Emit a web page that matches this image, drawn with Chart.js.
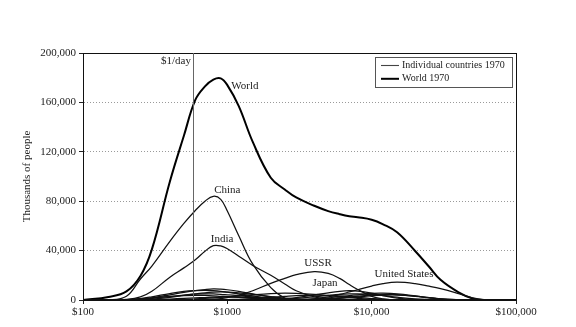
<!DOCTYPE html>
<html>
<head>
<meta charset="utf-8">
<script src="https://cdn.jsdelivr.net/npm/chart.js@4"></script>
<style>
  html, body { margin: 0; padding: 0; background: #fff; }
  #wrap { width: 576px; height: 327px; }
</style>
</head>
<body>
<div id="wrap"><canvas id="chart"></canvas></div>
<script>
// income grid (1985 $, log scale) shared by every curve
const incomes = [100, 150, 200, 250, 300, 400, 500, 600, 700, 800, 900, 1000, 1200, 1500, 2000, 2500, 3000,
  4000, 5000, 6000, 7000, 8000, 10000, 12000, 15000, 20000, 25000, 30000, 40000, 50000, 60000, 80000, 100000];

// thousands of people at each income level, 1970
const world = [0, 2500, 7000, 19500, 41000, 96000, 133000, 162000, 173000, 178500, 179500, 174000, 157000, 128000, 99000, 89500, 83000,
  76300, 72000, 69500, 67800, 67000, 65000, 61300, 54800, 39700, 26900, 16300, 6200, 1200, 0, 0, 0];
const china = [0, 0, 3000, 17000, 27500, 47500, 62000, 72500, 80000, 84000, 81500, 72000, 52000, 29000, 10000, 1500, 0,
  0, 0, 0, 0, 0, 0, 0, 0, 0, 0, 0, 0, 0, 0, 0, 0];
const india = [0, 0, 500, 2500, 7000, 18500, 26000, 32500, 39500, 44000, 43800, 41500, 35500, 28000, 20000, 13000, 7500,
  2500, 500, 0, 0, 0, 0, 0, 0, 0, 0, 0, 0, 0, 0, 0, 0];
const ussr = [0, 0, 0, 0, 0, 0, 0, 0, 300, 700, 1200, 2000, 4000, 7500, 13500, 17500, 20500,
  23000, 21500, 17500, 12500, 8500, 3000, 1000, 0, 0, 0, 0, 0, 0, 0, 0, 0];
const japan = [0, 0, 0, 0, 0, 0, 0, 0, 0, 0, 0, 0, 0, 0, 500, 1200, 2000,
  4000, 5800, 7000, 7500, 7200, 5500, 3500, 1500, 300, 0, 0, 0, 0, 0, 0, 0];
const unitedStates = [0, 0, 0, 0, 0, 0, 0, 0, 0, 0, 0, 0, 0, 0, 0, 0, 300,
  1000, 2500, 4500, 6500, 8300, 11300, 13300, 14400, 13300, 11200, 9200, 5200, 1800, 400, 0, 0];
const indonesia = [0, 0, 200, 800, 1800, 4200, 6200, 7600, 8500, 9000, 8800, 8300, 7000, 5000, 2500, 1000, 300,
  0, 0, 0, 0, 0, 0, 0, 0, 0, 0, 0, 0, 0, 0, 0, 0];
const bangladesh = [0, 0, 300, 1200, 2600, 5200, 6900, 7600, 7800, 7500, 7000, 6300, 5000, 3300, 1500, 600, 200,
  0, 0, 0, 0, 0, 0, 0, 0, 0, 0, 0, 0, 0, 0, 0, 0];
const pakistan = [0, 0, 0, 300, 800, 2200, 3700, 4900, 5800, 6300, 6500, 6400, 5800, 4600, 2800, 1500, 700,
  200, 0, 0, 0, 0, 0, 0, 0, 0, 0, 0, 0, 0, 0, 0, 0];
const nigeria = [0, 0, 200, 700, 1400, 2900, 4000, 4700, 5000, 4900, 4600, 4200, 3500, 2500, 1300, 600, 200,
  0, 0, 0, 0, 0, 0, 0, 0, 0, 0, 0, 0, 0, 0, 0, 0];
const ethiopia = [0, 0, 300, 900, 1600, 2800, 3500, 3800, 3700, 3400, 3000, 2700, 2100, 1400, 700, 300, 0,
  0, 0, 0, 0, 0, 0, 0, 0, 0, 0, 0, 0, 0, 0, 0, 0];
const egypt = [0, 0, 0, 100, 300, 800, 1300, 1700, 2000, 2300, 2400, 2500, 2400, 2100, 1500, 1000, 600,
  200, 0, 0, 0, 0, 0, 0, 0, 0, 0, 0, 0, 0, 0, 0, 0];
const brazil = [0, 0, 0, 0, 0, 200, 500, 900, 1300, 1700, 2100, 2500, 3200, 4200, 5200, 5500, 5300,
  4500, 3500, 2600, 1900, 1300, 600, 200, 0, 0, 0, 0, 0, 0, 0, 0, 0];
const mexico = [0, 0, 0, 0, 0, 0, 0, 0, 0, 0, 0, 300, 600, 1200, 2200, 3000, 3600,
  4000, 3800, 3300, 2700, 2100, 1200, 600, 200, 0, 0, 0, 0, 0, 0, 0, 0];
const germany = [0, 0, 0, 0, 0, 0, 0, 0, 0, 0, 0, 0, 0, 0, 0, 0, 200,
  900, 1800, 2700, 3500, 4200, 5300, 5500, 5000, 3400, 1900, 900, 200, 0, 0, 0, 0];
const unitedKingdom = [0, 0, 0, 0, 0, 0, 0, 0, 0, 0, 0, 0, 0, 0, 0, 0, 100,
  500, 1100, 1800, 2500, 3100, 4000, 4500, 4300, 3000, 1700, 800, 200, 0, 0, 0, 0];
const france = [0, 0, 0, 0, 0, 0, 0, 0, 0, 0, 0, 0, 0, 0, 0, 0, 0,
  300, 700, 1300, 1900, 2500, 3400, 3900, 4000, 3100, 1900, 1000, 300, 0, 0, 0, 0];
const italy = [0, 0, 0, 0, 0, 0, 0, 0, 0, 0, 0, 0, 0, 0, 200, 700, 1300,
  2600, 3700, 4500, 4900, 5000, 4500, 3600, 2300, 900, 300, 0, 0, 0, 0, 0, 0];

const countries = [
  ['Indonesia', indonesia], ['Bangladesh', bangladesh], ['Pakistan', pakistan], ['Nigeria', nigeria],
  ['Ethiopia', ethiopia], ['Egypt', egypt], ['Brazil', brazil], ['Mexico', mexico], ['Germany', germany],
  ['United Kingdom', unitedKingdom], ['France', france], ['Italy', italy],
  ['Japan', japan], ['USSR', ussr], ['United States', unitedStates], ['India', india], ['China', china]
];

// axis ticks
const xTickValues = [100, 1000, 10000, 100000];
const xTickLabels = ['$100', '$1000', '$10,000', '$100,000'];
const yTickValues = [0, 40000, 80000, 120000, 160000, 200000];

// poverty line and curve names placed in data units
const dayIncome = 575;
const curveNames = ['World', 'China', 'India', 'USSR', 'Japan', 'United States'];
const curveNameIncomes = [1065, 1000, 921, 4250, 4750, 16750];
const curveNameValues = [173000, 89300, 49700, 29500, 13300, 20600];
const curveNameAlign = ['left', 'center', 'center', 'center', 'center', 'center'];

const legendLabels = ['Individual countries 1970', 'World 1970'];

const FONT = '"Liberation Serif", "Times New Roman", serif';
const toPoints = (values) => values.map((v, i) => ({ x: incomes[i], y: v }));

const countrySets = countries.map(([name, values]) => ({
  label: name,
  data: toPoints(values),
  borderColor: '#111',
  borderWidth: 1.25,
  pointRadius: 0,
  fill: false,
  tension: 0.4
}));

const worldSet = {
  label: 'World',
  data: toPoints(world),
  borderColor: '#000',
  borderWidth: 2,
  pointRadius: 0,
  fill: false,
  tension: 0.4
};

const overlay = {
  id: 'overlay',
  afterDraw(chart) {
    const { ctx, chartArea: area, scales } = chart;
    ctx.save();

    // frame
    ctx.strokeStyle = '#111';
    ctx.lineWidth = 1;
    ctx.strokeRect(area.left + 0.5, area.top + 0.5, area.right - area.left, area.bottom - area.top);

    // $1/day line
    const dx = Math.round(scales.x.getPixelForValue(dayIncome)) + 0.5;
    ctx.strokeStyle = '#666';
    ctx.beginPath();
    ctx.moveTo(dx, area.top);
    ctx.lineTo(dx, area.bottom);
    ctx.stroke();

    ctx.fillStyle = '#222';
    ctx.font = `11px ${FONT}`;
    ctx.textBaseline = 'middle';
    ctx.textAlign = 'right';
    ctx.fillText('$1/day', dx - 2.5, area.top + 8);

    // curve names
    curveNames.forEach((name, i) => {
      ctx.textAlign = curveNameAlign[i];
      ctx.fillText(name, scales.x.getPixelForValue(curveNameIncomes[i]), scales.y.getPixelForValue(curveNameValues[i]));
    });

    // legend box
    const bx = area.right - 141, by = area.top + 4;
    ctx.fillStyle = '#fff';
    ctx.fillRect(bx, by, 137, 30);
    ctx.strokeStyle = '#555';
    ctx.strokeRect(bx + 0.5, by + 0.5, 137, 30);
    const widths = [1.1, 2];
    const colors = ['#444', '#000'];
    legendLabels.forEach((text, i) => {
      const ly = by + 8.5 + i * 13.3;
      ctx.strokeStyle = colors[i];
      ctx.lineWidth = widths[i];
      ctx.beginPath();
      ctx.moveTo(bx + 6, ly);
      ctx.lineTo(bx + 24, ly);
      ctx.stroke();
      ctx.fillStyle = '#222';
      ctx.textAlign = 'left';
      ctx.font = `10px ${FONT}`;
      ctx.fillText(text, bx + 27, ly);
    });

    ctx.restore();
  }
};

new Chart(document.getElementById('chart'), {
  type: 'line',
  data: { datasets: [...countrySets, worldSet] },
  options: {
    responsive: true,
    maintainAspectRatio: false,
    animation: false,
    devicePixelRatio: 1,
    layout: { padding: { left: 21, right: 60, top: 53, bottom: 0 } },
    plugins: { legend: { display: false }, tooltip: { enabled: false } },
    scales: {
      x: {
        type: 'logarithmic',
        min: 100,
        max: 100000,
        afterBuildTicks: (scale) => { scale.ticks = xTickValues.map((v) => ({ value: v })); },
        afterFit: (scale) => { scale.height = 27; },
        ticks: {
          color: '#222',
          font: { family: FONT, size: 11 },
          padding: 2,
          maxRotation: 0,
          autoSkip: false,
          callback: (v) => xTickLabels[xTickValues.indexOf(v)] ?? ''
        },
        grid: { drawOnChartArea: false, drawTicks: true, tickLength: 4, tickColor: '#222' },
        border: { color: '#111', width: 1 }
      },
      y: {
        min: 0,
        max: 200000,
        afterBuildTicks: (scale) => { scale.ticks = yTickValues.map((v) => ({ value: v })); },
        afterFit: (scale) => { scale.width = 62; },
        ticks: {
          color: '#222',
          font: { family: FONT, size: 11 },
          padding: 3,
          callback: (v) => v.toLocaleString('en-US')
        },
        title: {
          display: true,
          text: 'Thousands of people',
          color: '#222',
          font: { family: FONT, size: 11 },
          padding: { top: 0, bottom: 0 }
        },
        grid: { color: '#9a9a9a', lineWidth: 1, tickLength: 4, tickColor: '#222', tickBorderDash: [] },
        border: { color: '#111', width: 1, dash: [1, 2] }
      }
    }
  },
  plugins: [overlay]
});
</script>
</body>
</html>
